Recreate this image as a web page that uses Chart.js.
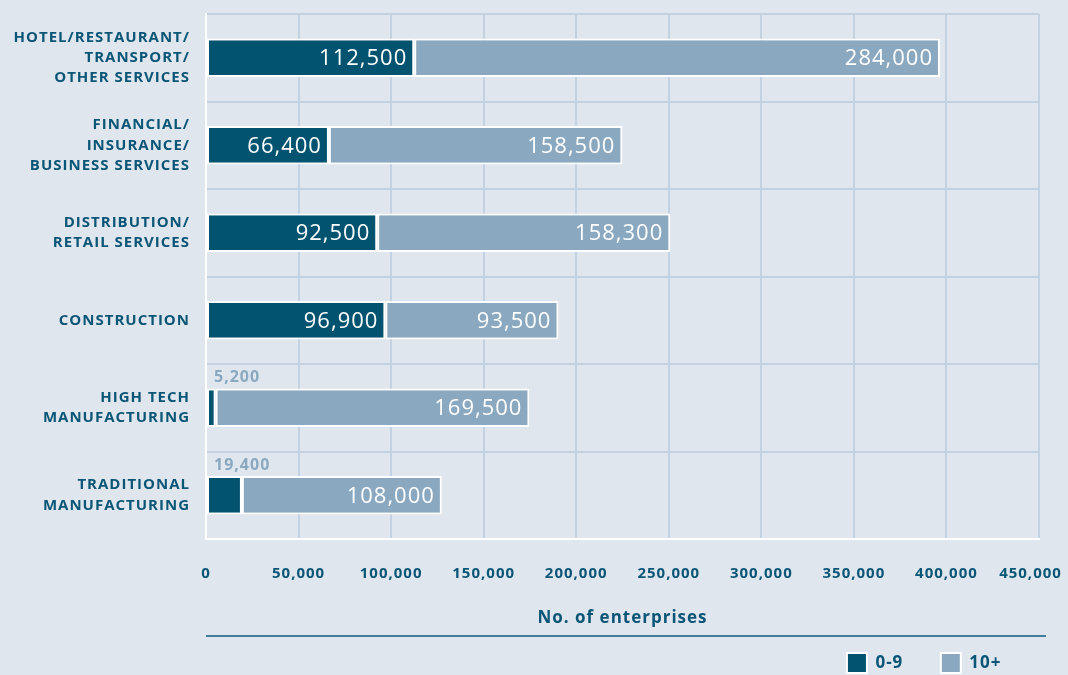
<!DOCTYPE html>
<html>
<head>
<meta charset="utf-8">
<script src="https://cdn.jsdelivr.net/npm/chart.js@4/dist/chart.umd.min.js"></script>
<style>
  html, body { margin: 0; padding: 0; background: #dfe6ee; }
  #wrap { width: 1068px; height: 675px; position: relative; }
</style>
</head>
<body>
<div id="wrap"><canvas id="sectorChart"></canvas></div>
<script>
// Enterprises by sector and size class
var sectors = [
    ['HOTEL/RESTAURANT/', 'TRANSPORT/', 'OTHER SERVICES'],
    ['FINANCIAL/', 'INSURANCE/', 'BUSINESS SERVICES'],
    ['DISTRIBUTION/', 'RETAIL SERVICES'],
    'CONSTRUCTION',
    ['HIGH TECH', 'MANUFACTURING'],
    ['TRADITIONAL', 'MANUFACTURING']
];
var small09 = [112500, 66400, 92500, 96900, 5200, 19400];
var large10 = [284000, 158500, 158300, 93500, 169500, 108000];
var seriesNames = ['0-9', '10+'];
var xTicks = [0, 50000, 100000, 150000, 200000, 250000, 300000, 350000, 400000, 450000];

var DARK = '#02536f';
var LIGHT = '#8aa9c0';
var TEXT = '#0b5676';
var GRID = '#c3d2e1';
var FONT = '"Open Sans", sans-serif';

function fmt(v) { return v.toLocaleString('en-US'); }

// letter spacing on the canvas (reset every time the canvas is resized)
var spacing = {
    id: 'spacing',
    beforeLayout: function (chart) { chart.ctx.letterSpacing = '1px'; },
    beforeDraw: function (chart) { chart.ctx.letterSpacing = '1px'; }
};

// value labels on the bars, and the rule under the axis title
var barLabels = {
    id: 'barLabels',
    afterDatasetsDraw: function (chart) {
        var ctx = chart.ctx;
        ctx.save();
        chart.data.datasets.forEach(function (ds, di) {
            var meta = chart.getDatasetMeta(di);
            meta.data.forEach(function (bar, i) {
                var p = bar.getProps(['x', 'y', 'base', 'height'], true);
                var w = p.x - p.base;
                var txt = fmt(ds.data[i]);
                if (w > 60) {
                    ctx.font = '22px ' + FONT;
                    ctx.fillStyle = '#ffffff';
                    ctx.textAlign = 'right';
                    ctx.textBaseline = 'middle';
                    ctx.fillText(txt, p.x - 7, p.y + 1);
                } else {
                    ctx.font = 'bold 16px ' + FONT;
                    ctx.fillStyle = LIGHT;
                    ctx.textAlign = 'left';
                    ctx.textBaseline = 'bottom';
                    ctx.fillText(txt, p.base + 7, p.y - p.height / 2 - 3);
                }
            });
        });
        var xs = chart.scales.x;
        ctx.strokeStyle = '#3f7f9c';
        ctx.lineWidth = 2;
        ctx.beginPath();
        ctx.moveTo(chart.chartArea.left, xs.bottom - 7);
        ctx.lineTo(chart.chartArea.right + 7, xs.bottom - 7);
        ctx.stroke();
        ctx.restore();
    }
};

var ctx = document.getElementById('sectorChart').getContext('2d');
var sectorChart = new Chart(ctx, {
    type: 'bar',
    data: {
        labels: sectors,
        datasets: [{
            label: seriesNames[0],
            data: small09,
            backgroundColor: DARK,
            borderColor: '#ffffff',
            borderWidth: 2,
            borderSkipped: false
        }, {
            label: seriesNames[1],
            data: large10,
            backgroundColor: LIGHT,
            borderColor: '#ffffff',
            borderWidth: 2,
            borderSkipped: false
        }]
    },
    options: {
        indexAxis: 'y',
        responsive: true,
        maintainAspectRatio: false,
        animation: false,
        layout: { padding: { top: 14, right: 29, left: 0, bottom: -8 } },
        datasets: { bar: { categoryPercentage: 1, barPercentage: 0.44 } },
        scales: {
            x: {
                stacked: true,
                min: 0,
                max: 450000,
                afterBuildTicks: function (scale) {
                    scale.ticks = xTicks.map(function (v) { return { value: v }; });
                },
                afterFit: function (scale) {
                    scale.paddingLeft = 0;
                    scale.paddingRight = 0;
                    scale.height = 104;
                },
                grid: {
                    color: GRID,
                    lineWidth: 2,
                    drawTicks: false
                },
                border: { color: '#ffffff', width: 2 },
                ticks: {
                    padding: 26,
                    color: TEXT,
                    font: { family: FONT, size: 15, weight: 'bold' },
                    maxRotation: 0,
                    autoSkip: false,
                    callback: function (v) {
                        // last label sits a little left of its grid line
                        return v === 450000 ? fmt(v) + '\u2002\u2002' : fmt(v);
                    }
                },
                title: {
                    display: true,
                    text: 'No. of enterprises',
                    color: TEXT,
                    font: { family: FONT, size: 17, weight: 'bold' },
                    padding: { top: 20, bottom: 15 }
                }
            },
            y: {
                stacked: true,
                afterFit: function (scale) {
                    scale.width = 206;
                    scale.paddingTop = 0;
                    scale.paddingBottom = 0;
                },
                grid: {
                    offset: true,
                    color: GRID,
                    lineWidth: 2,
                    drawTicks: false
                },
                border: { color: '#ffffff', width: 2 },
                ticks: {
                    padding: 16,
                    color: TEXT,
                    font: { family: FONT, size: 15, weight: 'bold', lineHeight: 1.35 }
                }
            }
        },
        plugins: {
            tooltip: { enabled: false },
            legend: {
                position: 'bottom',
                align: 'end',
                labels: {
                    boxWidth: 20,
                    boxHeight: 20,
                    padding: 10,
                    color: TEXT,
                    font: { family: FONT, size: 17, weight: 'bold' },
                    generateLabels: function (chart) {
                        var items = Chart.defaults.plugins.legend.labels.generateLabels(chart);
                        items.forEach(function (it) { it.text = it.text + '\u2003\u2002'; });
                        return items;
                    }
                }
            }
        }
    },
    plugins: [spacing, barLabels]
});
</script>
</body>
</html>
